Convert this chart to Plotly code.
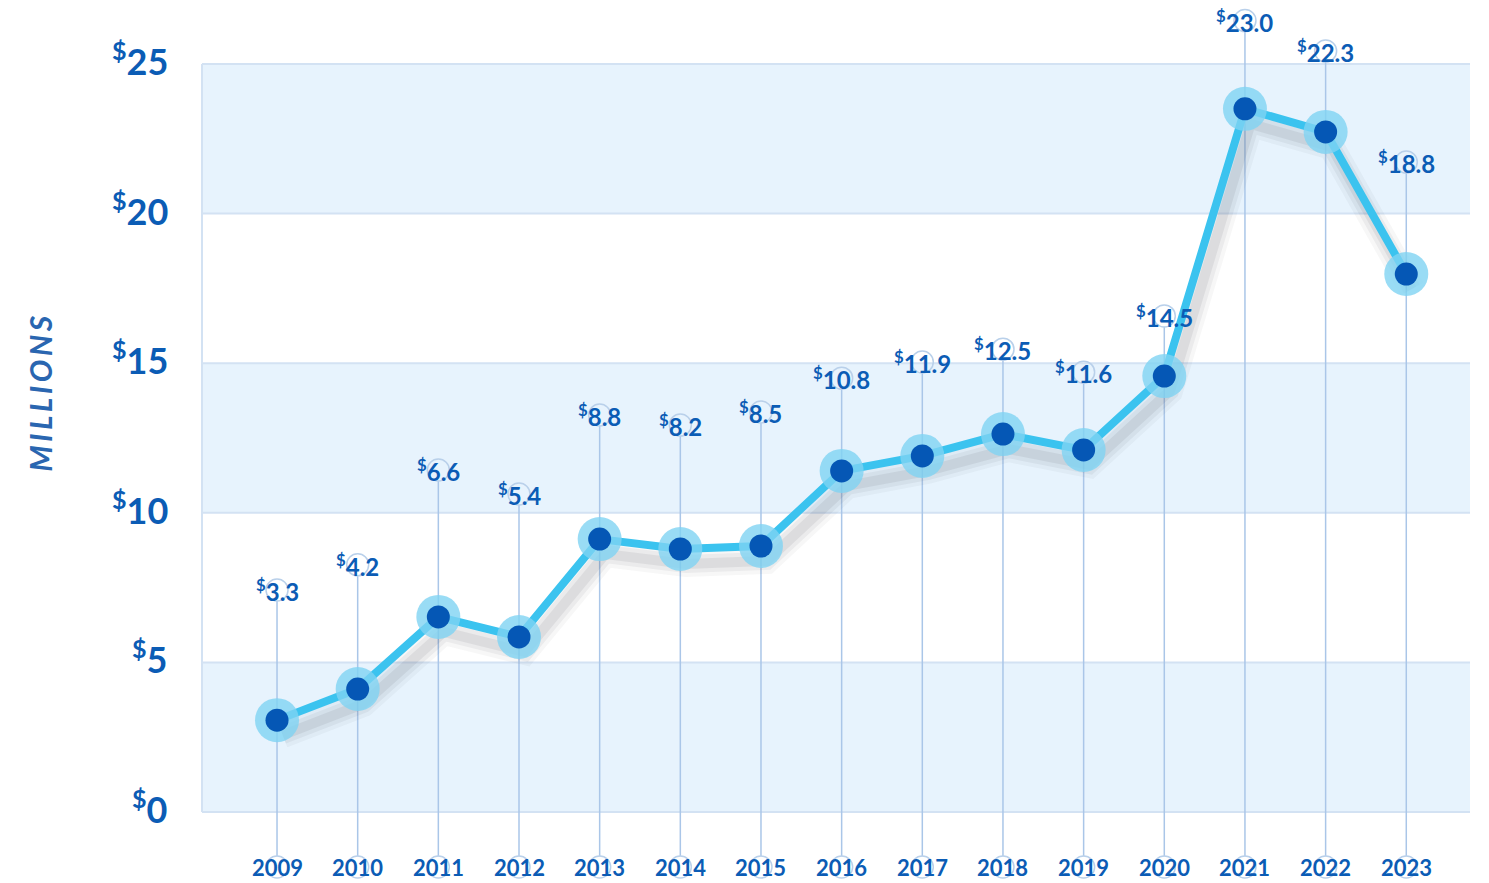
import plotly.graph_objects as go

years = list(range(2009, 2024))
values = [3.07, 4.11, 6.52, 5.85, 9.12, 8.79, 8.89, 11.40, 11.90, 12.63, 12.10, 14.57, 23.50, 22.73, 17.98]
labels = ["3.3", "4.2", "6.6", "5.4", "8.8", "8.2", "8.5", "10.8", "11.9", "12.5", "11.6", "14.5", "23.0", "22.3", "18.8"]
label_y = [7.42, 8.26, 11.43, 10.63, 13.27, 12.93, 13.37, 14.5, 15.04, 15.47, 14.7, 16.58, 26.45, 25.43, 21.72]
y_ticks = [0, 5, 10, 15, 20, 25]
y_tick_text = ["<sup>$</sup>%d" % v for v in y_ticks]

YEAR_Y = -1.84
R = 0.36  # radius of small label circles in data units

BLUE = "#0b5cb5"
LINE = "#3bc3ef"
DOT = "#0557b5"
HALO = "#7fd3f3"
BAND = "#e7f3fd"
BAND_EDGE = "#d3e2f3"
DROP = "#aac6e8"
FONT = "Lato"

fig = go.Figure()

# bands
shapes = []
for lo in (0, 10, 20):
    shapes.append(dict(type="rect", xref="paper", yref="y", x0=0, x1=1, y0=lo, y1=lo + 5,
                       fillcolor=BAND, line=dict(width=0), layer="below"))
for v in y_ticks:
    shapes.append(dict(type="line", xref="paper", yref="y", x0=0, x1=1, y0=v, y1=v,
                       line=dict(color=BAND_EDGE, width=2), layer="below"))
shapes.append(dict(type="line", xref="paper", yref="y", x0=0, x1=0, y0=0, y1=25,
                   line=dict(color=BAND_EDGE, width=2), layer="below"))

# drop lines
dx, dy = [], []
for x, ly in zip(years, label_y):
    dx += [x, x, None]
    dy += [ly - R, YEAR_Y + R, None]
fig.add_trace(go.Scatter(x=dx, y=dy, mode="lines", line=dict(color=DROP, width=1.5),
                         hoverinfo="skip", showlegend=False))
# label circles
fig.add_trace(go.Scatter(x=years + years, y=label_y + [YEAR_Y] * len(years), mode="markers",
                         marker=dict(symbol="circle-open", size=22, color="#b9d0ea",
                                     line=dict(width=1.5, color="#b9d0ea")),
                         hoverinfo="skip", showlegend=False))

# shadow
for w, op in [(26, 0.04), (18, 0.06), (10, 0.08)]:
    fig.add_trace(go.Scatter(x=[x + 0.07 for x in years], y=[v - 0.5 for v in values], mode="lines",
                             line=dict(color="rgba(50,50,60,%.2f)" % op, width=w),
                             hoverinfo="skip", showlegend=False))
# main line
fig.add_trace(go.Scatter(x=years, y=values, mode="lines", line=dict(color=LINE, width=8),
                         hoverinfo="skip", showlegend=False))
# halo
fig.add_trace(go.Scatter(x=years, y=values, mode="markers",
                         marker=dict(size=44, color=HALO, opacity=0.8),
                         hoverinfo="skip", showlegend=False))
# dots
fig.add_trace(go.Scatter(x=years, y=values, mode="markers",
                         marker=dict(size=23, color=DOT),
                         hoverinfo="skip", showlegend=False))

annotations = []
for x, ly, t in zip(years, label_y, labels):
    annotations.append(dict(x=x, y=ly, xref="x", yref="y", text="<sup>$</sup>" + t, showarrow=False,
                            xanchor="center", yanchor="middle",
                            font=dict(family=FONT, size=24, color=BLUE, weight="bold")))
for x in years:
    annotations.append(dict(x=x, y=YEAR_Y, xref="x", yref="y", text=str(x), showarrow=False,
                            xanchor="center", yanchor="middle",
                            font=dict(family=FONT, size=22, color=BLUE, weight="bold")))
for v, t in zip(y_ticks, y_tick_text):
    annotations.append(dict(x=-0.0252, y=v, xref="paper", yref="y", text=t, showarrow=False,
                            xanchor="right", yanchor="middle", yshift=5,
                            font=dict(family=FONT, size=36, color=BLUE, weight="bold")))
annotations.append(dict(x=-0.128, y=14.0, xref="paper", yref="y",
                        text="\u2009".join("MILLIONS"), showarrow=False, textangle=-90,
                        xanchor="center", yanchor="middle",
                        font=dict(family=FONT, size=30, color="#2a66b0", style="italic", weight="bold")))

fig.update_layout(
    width=1481, height=875,
    margin=dict(l=194, r=19, t=0, b=0),
    paper_bgcolor="white", plot_bgcolor="white",
    xaxis=dict(range=[2008.07, 2023.79], visible=False, fixedrange=True),
    yaxis=dict(range=[-2.373, 26.871], visible=False, fixedrange=True),
    shapes=shapes, annotations=annotations,
)

fig.write_html("out.html")
